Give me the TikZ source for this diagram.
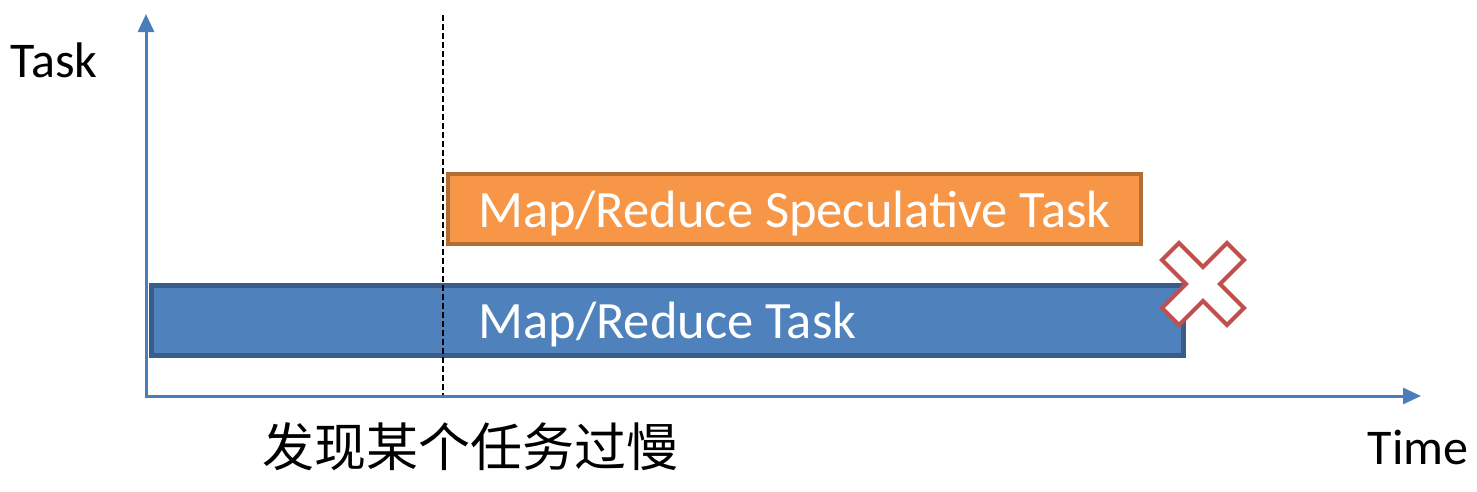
\documentclass[tikz,border=0pt]{standalone}
\usepackage{fontspec}
\setmainfont{Carlito}
\newfontfamily\cjk{Noto Sans CJK SC}
\usetikzlibrary{arrows.meta,calc}
\definecolor{axisblue}{HTML}{4A7EBB}
\definecolor{taskblue}{HTML}{4F81BD}
\definecolor{taskblueD}{HTML}{385D8A}
\definecolor{specorange}{HTML}{F79646}
\definecolor{specorangeD}{HTML}{B66D31}
\definecolor{crossred}{HTML}{C0504D}
\tikzset{
  axis/.style={draw=axisblue, line width=3pt, -{Triangle[width=16pt,length=18pt]}},
  bar/.style={rectangle, inner sep=0pt, text=white, text height=36pt, text depth=0pt, font=\fontsize{52.5}{60}\selectfont},
  lbl/.style={inner sep=0pt, font=\fontsize{50}{60}\selectfont},
}
\begin{document}
\begin{tikzpicture}[x=1pt,y=-1pt]
\useasboundingbox (0,0) rectangle (1477,491);
% axes
\coordinate (origin) at (146,396);
\coordinate (ytop) at (146,14);
\coordinate (xend) at (1421,396);
\draw[axis] (146,397.5) -- (ytop);
\draw[axis] (144.5,396) -- (xend);
% bars
\node[bar, fill=taskblue, draw=taskblueD, line width=5pt, minimum width=1032pt, minimum height=70pt] (task) at (667.5,320.5) {Map/Reduce Task};
\node[bar, fill=specorange, draw=specorangeD, line width=4pt, minimum width=693pt, minimum height=70pt] (spec) at (794.5,209) {Map/Reduce Speculative Task};
% dashed marker
\coordinate (dtop) at (443,15);
\coordinate (dbot) at (443,395);
\draw[black, line width=2pt, dash pattern=on 6pt off 3pt] (dtop) -- (dbot);
% cross
\coordinate (x) at (1203,284);
\draw[crossred, line width=4pt, fill=white, line join=miter]
  ($(x)+(0,-17)$) -- ++(24,-24) -- ++(17,17) -- ++(-24,24) -- ++(24,24) -- ++(-17,17) -- ++(-24,-24)
  -- ++(-24,24) -- ++(-17,-17) -- ++(24,-24) -- ++(-24,-24) -- ++(17,-17) -- cycle;
% labels
\node[lbl, anchor=center] (ylab) at (54,60) {Task};
\node[lbl, anchor=center] (xlab) at (1418,447) {Time};
\node[inner sep=0pt, font=\cjk\fontsize{52}{60}\selectfont] (note) at (470,447) {发现某个任务过慢};
\end{tikzpicture}
\end{document}
